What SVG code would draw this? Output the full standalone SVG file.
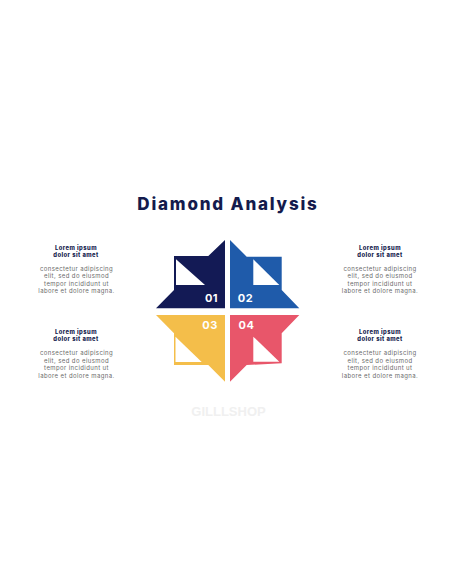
<svg xmlns="http://www.w3.org/2000/svg" width="456" height="586" viewBox="0 0 456 586">
<style>
.title{font-family:Inter,"Noto Sans",sans-serif;font-weight:800;font-size:17px;fill:#141B4D;letter-spacing:1.8px}
.h{font-family:Inter,"Noto Sans",sans-serif;font-weight:800;font-size:5.8px;fill:#141B4D;text-anchor:middle;letter-spacing:0.45px}
.b{font-family:Inter,"Noto Sans",sans-serif;font-size:6px;fill:#6b6b6b;text-anchor:middle;letter-spacing:0.4px}
.num{font-family:Inter,"Noto Sans",sans-serif;font-weight:700;font-size:11px;fill:#ffffff;text-anchor:middle;letter-spacing:0.5px}
.wm{font-family:"Liberation Sans",Arial,sans-serif;font-weight:700;font-size:13px;fill:#f0f0f0;text-anchor:middle}
.tri{fill:#ffffff}
</style>
<rect width="456" height="586" fill="#ffffff"/>
<text class="title" x="228" y="210" text-anchor="middle">Diamond Analysis</text>
<g id="q1">
<polygon points="225,240 208.3,256 174,256 174,290 156,308.3 225,308.3" fill="#131A55"/>
<polygon class="tri" points="176,259.3 176,285 205,285"/>
<text class="num" x="211.5" y="302">01</text>
</g>
<g id="q2">
<polygon points="230,240 246.7,256.7 281.7,256.7 281.7,290 299.3,308.3 230,308.3" fill="#1F5BAA"/>
<polygon class="tri" points="253.3,259.3 253.3,285 279.3,285"/>
<text class="num" x="245.5" y="302">02</text>
</g>
<g id="q3">
<polygon points="156,315 225,315 225,381.7 208.3,365 174,365 174,333.3" fill="#F4BE4A"/>
<polygon class="tri" points="175.5,336.7 175.5,362 201.7,362"/>
<text class="num" x="210" y="329">03</text>
</g>
<g id="q4">
<polygon points="230,315 299.3,315 281.7,333.3 281.7,363.3 246.7,365 230,381.7" fill="#E8566A"/>
<polygon class="tri" points="253.3,336.7 253.3,361.7 279.3,361.7"/>
<text class="num" x="246.5" y="329">04</text>
</g>
<g id="t1">
<text class="h" x="76" y="250">Lorem ipsum</text>
<text class="h" x="76" y="256.5">dolor sit amet</text>
<text class="b" x="76.5" y="270.5">consectetur adipiscing</text>
<text class="b" x="76.5" y="278">elit, sed do eiusmod</text>
<text class="b" x="76.5" y="285.5">tempor incididunt ut</text>
<text class="b" x="76.5" y="293">labore et dolore magna.</text>
</g>
<g id="t2">
<text class="h" x="380" y="250">Lorem ipsum</text>
<text class="h" x="380" y="256.5">dolor sit amet</text>
<text class="b" x="380" y="270.5">consectetur adipiscing</text>
<text class="b" x="380" y="278">elit, sed do eiusmod</text>
<text class="b" x="380" y="285.5">tempor incididunt ut</text>
<text class="b" x="380" y="293">labore et dolore magna.</text>
</g>
<g id="t3">
<text class="h" x="76" y="334">Lorem ipsum</text>
<text class="h" x="76" y="340.5">dolor sit amet</text>
<text class="b" x="76.5" y="355">consectetur adipiscing</text>
<text class="b" x="76.5" y="362.5">elit, sed do eiusmod</text>
<text class="b" x="76.5" y="370">tempor incididunt ut</text>
<text class="b" x="76.5" y="377.5">labore et dolore magna.</text>
</g>
<g id="t4">
<text class="h" x="380" y="334">Lorem ipsum</text>
<text class="h" x="380" y="340.5">dolor sit amet</text>
<text class="b" x="380" y="355">consectetur adipiscing</text>
<text class="b" x="380" y="362.5">elit, sed do eiusmod</text>
<text class="b" x="380" y="370">tempor incididunt ut</text>
<text class="b" x="380" y="377.5">labore et dolore magna.</text>
</g>
<text class="wm" x="228.5" y="416">GILLLSHOP</text>
</svg>
